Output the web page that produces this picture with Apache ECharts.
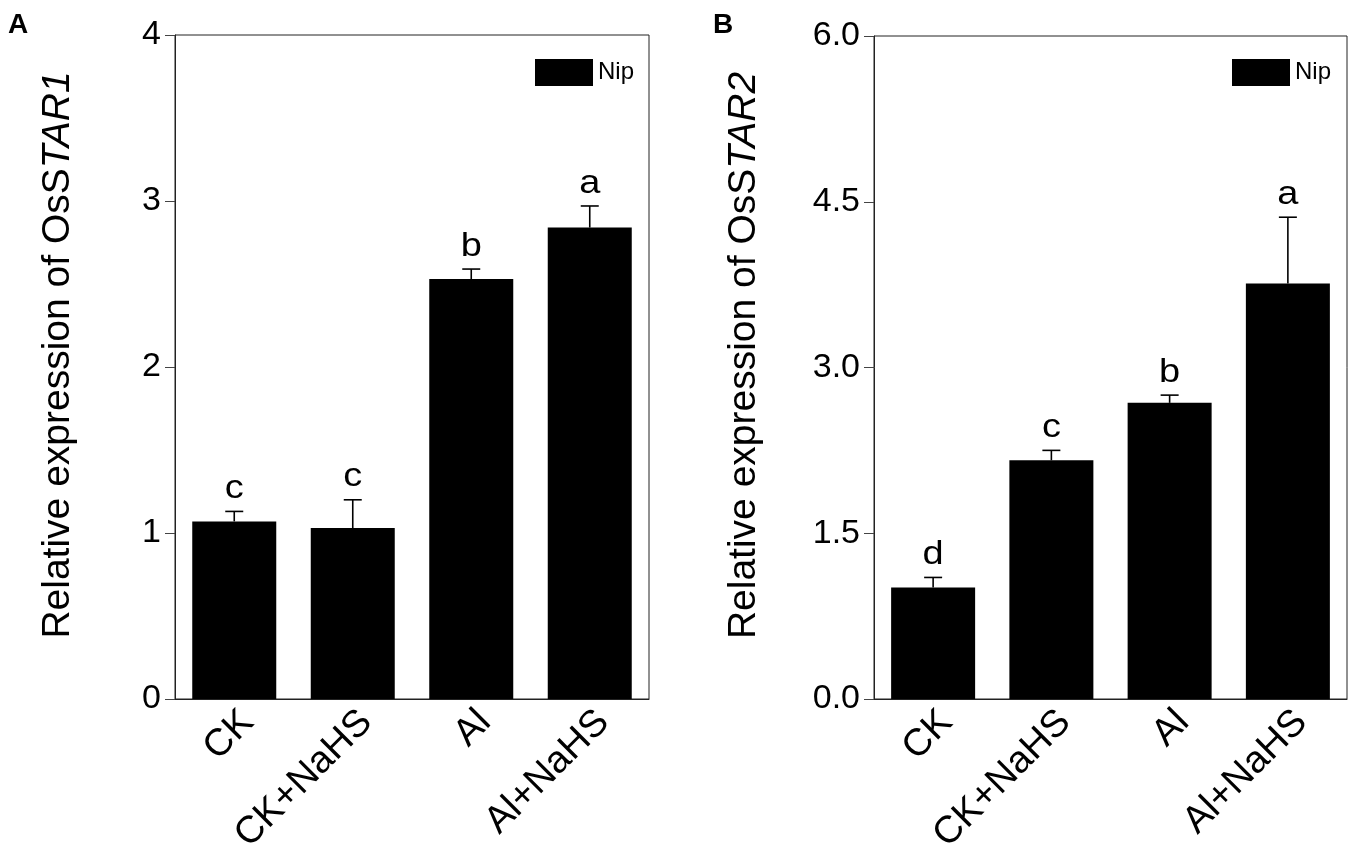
<!DOCTYPE html>
<html>
<head>
<meta charset="utf-8">
<script src="https://cdn.jsdelivr.net/npm/echarts@6/dist/echarts.min.js"></script>
<style>
  html, body { margin: 0; padding: 0; background: #fff; }
  #main { width: 1351px; height: 853px; }
</style>
</head>
<body>
<div id="main"></div>
<script>
// treatments on the x axis
var categories = ["CK", "CK+NaHS", "Al", "Al+NaHS"];

// panel A: OsSTAR1
var star1Mean = [1.07, 1.03, 2.53, 2.84];
var star1Err = [0.06, 0.17, 0.06, 0.13];
var star1Letters = ["c", "c", "b", "a"];
var star1Ticks = [0, 1, 2, 3, 4];

// panel B: OsSTAR2
var star2Mean = [1.01, 2.16, 2.68, 3.76];
var star2Err = [0.09, 0.09, 0.07, 0.60];
var star2Letters = ["d", "c", "b", "a"];
var star2Ticks = ["0.0", "1.5", "3.0", "4.5", "6.0"];

var FONT = "Liberation Sans, Arial, sans-serif";
var myChart = echarts.init(document.getElementById("main"));

function errRows(mean, err, letters) {
  var rows = [];
  for (var i = 0; i < mean.length; i++) {
    rows.push([i, mean[i], err[i], letters[i]]);
  }
  return rows;
}

// upper whisker + cap + significance letter
function renderErr(params, api) {
  var i = api.value(0);
  var v = api.value(1);
  var e = api.value(2);
  var bot = api.coord([i, v]);
  var top = api.coord([i, v + e]);
  var st = { stroke: "#000", lineWidth: 1.6 };
  return {
    type: "group",
    children: [
      { type: "line", shape: { x1: bot[0], y1: bot[1], x2: top[0], y2: top[1] }, style: st },
      { type: "line", shape: { x1: top[0] - 9, y1: top[1], x2: top[0] + 9, y2: top[1] }, style: st },
      {
        type: "text",
        x: top[0], y: top[1] - 6,
        scaleX: 1.15,
        style: {
          text: api.value(3),
          fill: "#000",
          font: "33px " + FONT,
          textAlign: "center",
          textVerticalAlign: "bottom"
        }
      }
    ]
  };
}

function xAxisFor(idx) {
  return {
    type: "category",
    gridIndex: idx,
    data: categories,
    axisLine: { lineStyle: { color: "#222", width: 1 } },
    axisTick: { alignWithLabel: true, length: 9, lineStyle: { color: "#777" } },
    axisLabel: {
      rotate: 45,
      margin: 4,
      verticalAlign: "top",
      fontSize: 38,
      color: "#000",
      fontFamily: FONT,
      interval: 0
    }
  };
}

function yAxisFor(idx, max, step, ticks, nameEnd, gap) {
  return {
    type: "value",
    gridIndex: idx,
    min: 0,
    max: max,
    interval: step,
    name: "{n|Relative expression of OsS}{i|" + nameEnd + "}",
    nameLocation: "middle",
    nameGap: gap,
    nameTextStyle: {
      padding: [0, 0, 0, 24],
      rich: {
        n: { fontSize: 39, color: "#000", fontFamily: FONT },
        i: { fontSize: 39, color: "#000", fontFamily: FONT, fontStyle: "italic" }
      }
    },
    splitLine: { show: false },
    axisLine: { show: true, lineStyle: { color: "#222", width: 1 } },
    axisTick: { show: true, length: 10, lineStyle: { color: "#444" } },
    axisLabel: {
      margin: 14,
      fontSize: 34,
      color: "#000",
      fontFamily: FONT,
      formatter: function (v) {
        return String(ticks[Math.round(v / step)]);
      }
    }
  };
}

var option = {
  animation: false,
  backgroundColor: "#fff",
  title: [
    { text: "A", left: 3, top: 6, textStyle: { fontSize: 28, fontWeight: "bold", color: "#000", fontFamily: FONT } },
    { text: "B", left: 708, top: 6, textStyle: { fontSize: 28, fontWeight: "bold", color: "#000", fontFamily: FONT } }
  ],
  legend: [
    {
      data: ["Nip"], left: 530, top: 54, itemWidth: 58, itemHeight: 27, icon: "rect",
      textStyle: { fontSize: 24, color: "#000", fontFamily: FONT }
    },
    {
      data: ["Nip"], left: 1227, top: 54, itemWidth: 58, itemHeight: 27, icon: "rect",
      textStyle: { fontSize: 24, color: "#000", fontFamily: FONT }
    }
  ],
  grid: [
    {
      left: 175, top: 35, width: 474, height: 664, containLabel: false, outerBoundsMode: "none",
      show: true, borderColor: "#222", borderWidth: 1, backgroundColor: "transparent"
    },
    {
      left: 874, top: 36, width: 473, height: 663, containLabel: false, outerBoundsMode: "none",
      show: true, borderColor: "#222", borderWidth: 1, backgroundColor: "transparent"
    }
  ],
  xAxis: [xAxisFor(0), xAxisFor(1)],
  yAxis: [
    yAxisFor(0, 4, 1, star1Ticks, "TAR1", 97),
    yAxisFor(1, 6, 1.5, star2Ticks, "TAR2", 110)
  ],
  series: [
    {
      name: "Nip", type: "bar", xAxisIndex: 0, yAxisIndex: 0,
      barWidth: 84, itemStyle: { color: "#000" }, data: star1Mean
    },
    {
      name: "err1", type: "custom", xAxisIndex: 0, yAxisIndex: 0,
      renderItem: renderErr, data: errRows(star1Mean, star1Err, star1Letters), z: 5
    },
    {
      name: "Nip", type: "bar", xAxisIndex: 1, yAxisIndex: 1,
      barWidth: 84, itemStyle: { color: "#000" }, data: star2Mean
    },
    {
      name: "err2", type: "custom", xAxisIndex: 1, yAxisIndex: 1,
      renderItem: renderErr, data: errRows(star2Mean, star2Err, star2Letters), z: 5
    }
  ]
};

myChart.setOption(option);
</script>
</body>
</html>
